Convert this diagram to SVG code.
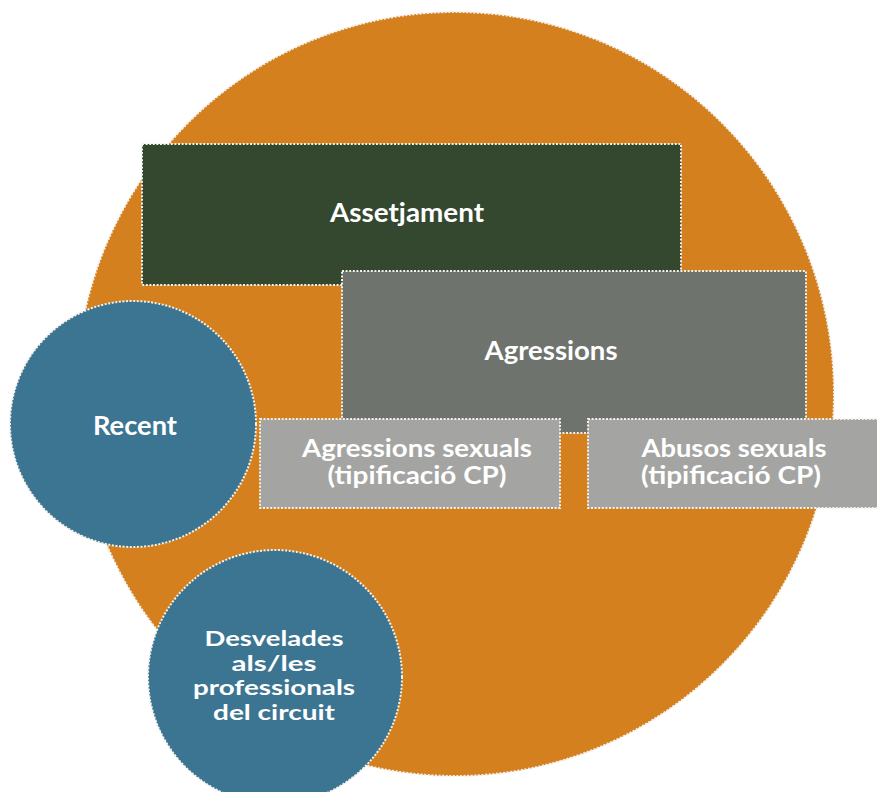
<svg xmlns="http://www.w3.org/2000/svg" width="877" height="792" viewBox="0 0 877 792">
<style>
.bd{stroke:#f4f1ec;stroke-width:2;stroke-dasharray:2 1.6}
.t{font-family:Lato,"Open Sans","Liberation Sans",sans-serif;font-weight:bold;fill:#ffffff;text-anchor:middle}
</style>
<rect width="877" height="792" fill="#ffffff"/>
<g id="outer"><ellipse cx="455" cy="394" rx="379" ry="382" fill="#d4801f" class="bd"/></g>
<g id="assetjament">
<rect x="142" y="144" width="539" height="141" fill="#344830" class="bd"/>
<text class="t" x="407" y="222" font-size="27" textLength="154" lengthAdjust="spacingAndGlyphs">Assetjament</text>
</g>
<g id="agressions">
<rect x="342" y="271" width="464" height="162" fill="#6e736d" class="bd"/>
<text class="t" x="551" y="360" font-size="27" textLength="133" lengthAdjust="spacingAndGlyphs">Agressions</text>
</g>
<g id="agressions-sexuals">
<rect x="260" y="419" width="300" height="89" fill="#a4a5a2" class="bd"/>
<text class="t" x="417" y="457" font-size="24" textLength="230" lengthAdjust="spacingAndGlyphs">Agressions sexuals</text>
<text class="t" x="417" y="484" font-size="24" textLength="179" lengthAdjust="spacingAndGlyphs">(tipificació CP)</text>
</g>
<g id="abusos-sexuals">
<rect x="588" y="419" width="300" height="89" fill="#a4a5a2" class="bd"/>
<text class="t" x="734" y="457" font-size="24" textLength="185" lengthAdjust="spacingAndGlyphs">Abusos sexuals</text>
<text class="t" x="731" y="484" font-size="24" textLength="180" lengthAdjust="spacingAndGlyphs">(tipificació CP)</text>
</g>
<g id="recent">
<circle cx="133" cy="424" r="123" fill="#3c7592" class="bd"/>
<text class="t" x="135" y="435" font-size="27" textLength="84" lengthAdjust="spacingAndGlyphs">Recent</text>
</g>
<g id="desvelades">
<circle cx="275" cy="677" r="127" fill="#3c7592" class="bd"/>
<text class="t" x="274" y="646" font-size="20" textLength="139" lengthAdjust="spacingAndGlyphs">Desvelades</text>
<text class="t" x="274" y="670.5" font-size="20" textLength="85" lengthAdjust="spacingAndGlyphs">als/les</text>
<text class="t" x="274" y="695" font-size="20" textLength="162" lengthAdjust="spacingAndGlyphs">professionals</text>
<text class="t" x="274" y="719.5" font-size="20" textLength="122" lengthAdjust="spacingAndGlyphs">del circuit</text>
</g>
<g id="connectors"></g>
</svg>
